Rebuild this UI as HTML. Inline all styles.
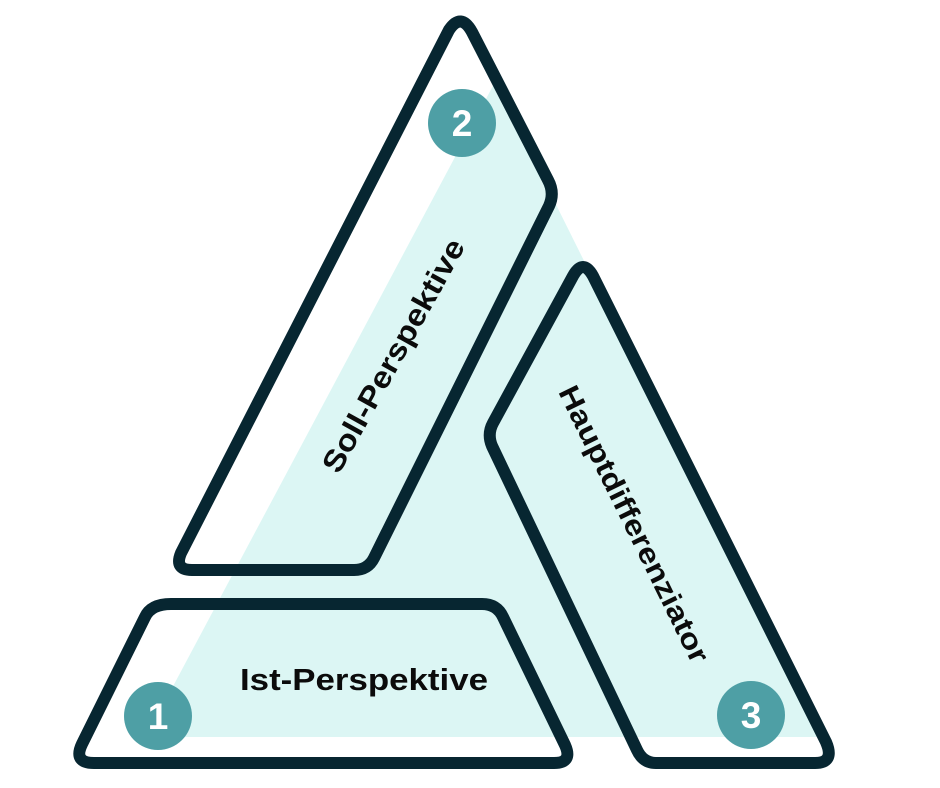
<!DOCTYPE html>
<html><head><meta charset="utf-8">
<style>
html,body{margin:0;padding:0;background:#fff;width:940px;height:788px;overflow:hidden}
svg{display:block}
text{font-family:"Liberation Sans",sans-serif;font-weight:bold;fill:#0b0b0b}
</style></head>
<body>
<svg width="940" height="788" viewBox="0 0 940 788" xmlns="http://www.w3.org/2000/svg">
<polygon points="495,82 146,737 821,737" fill="#dcf6f4"/>
<g fill="none" stroke="#072631" stroke-width="12" stroke-linejoin="round">
<path d="M449,30 Q461,12 472,32 L548,180 Q555,193 549,206 L374,558 Q368,570 354,570 L192,570 Q174,570 181,553 Z"/>
<path d="M171,604 L482,604 Q497,604 503,617 L565,745 Q573,763 554,763 L94,763 Q73,763 82,744 L145,617 Q151,604 171,604 Z"/>
<path d="M573,276 Q583,258 593,276 L826,742 Q835,763 815,763 L656,763 Q643,763 637,750 L492,446 Q487,434 493,423 Z"/>
</g>
<g fill="#4e9fa5">
<circle cx="462" cy="123" r="34"/>
<circle cx="158" cy="716" r="34"/>
<circle cx="751" cy="715" r="34"/>
</g>
<g font-size="37" text-anchor="middle">
<text x="462" y="136" style="fill:#fff">2</text>
<text x="158" y="729" style="fill:#fff">1</text>
<text x="751" y="728" style="fill:#fff">3</text>
</g>
<text x="240" y="690" font-size="31" textLength="248" lengthAdjust="spacingAndGlyphs">Ist-Perspektive</text>
<text x="-131" y="0" font-size="30" dominant-baseline="central" textLength="262" lengthAdjust="spacingAndGlyphs" transform="translate(394,356) rotate(-61)">Soll-Perspektive</text>
<text x="-152" y="0" font-size="29" dominant-baseline="central" textLength="305" lengthAdjust="spacingAndGlyphs" transform="translate(633,524) rotate(63.8)">Hauptdifferenziator</text>
</svg>
</body></html>
